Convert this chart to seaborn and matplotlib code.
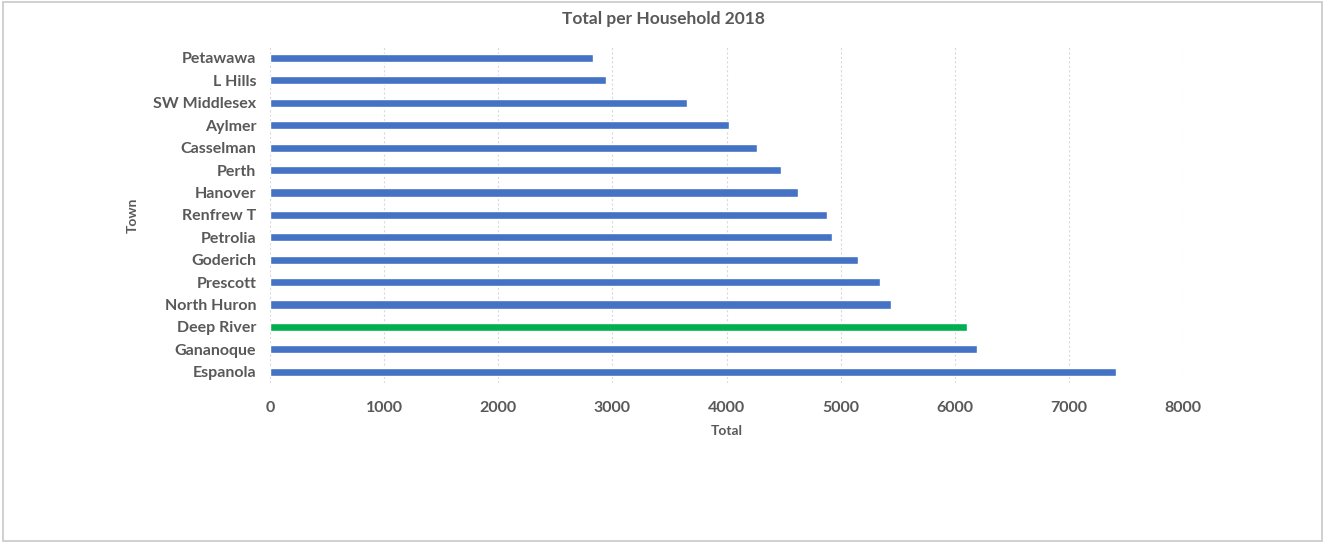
import matplotlib
matplotlib.use("Agg")
import matplotlib.pyplot as plt
import seaborn as sns
import pandas as pd
from matplotlib.patches import Rectangle

towns = ["Petawawa", "L Hills", "SW Middlesex", "Aylmer", "Casselman", "Perth",
         "Hanover", "Renfrew T", "Petrolia", "Goderich", "Prescott", "North Huron",
         "Deep River", "Gananoque", "Espanola"]
totals = [2834, 2945, 3655, 4026, 4271, 4481, 4622, 4882, 4925, 5156, 5343,
          5443, 6111, 6199, 7415]
x_ticks = [0, 1000, 2000, 3000, 4000, 5000, 6000, 7000, 8000]
highlight = "Deep River"

BLUE = "#4472C4"
GREEN = "#00B050"
TEXT = "#595959"

sns.set_theme(style="white")
plt.rcParams["font.family"] = ["Lato", "DejaVu Sans"]

df = pd.DataFrame({"Town": towns, "Total": totals})
palette = {t: (GREEN if t == highlight else BLUE) for t in towns}

fig = plt.figure(figsize=(13.27, 5.44), dpi=100)
ax = fig.add_axes([0.2035, 0.296, 0.688, 0.618])

sns.barplot(data=df, x="Total", y="Town", hue="Town", palette=palette,
            orient="h", width=0.36, legend=False, ax=ax, saturation=1)

ax.set_xlim(0, 8000)
ax.set_ylim(len(towns) - 0.5, -0.5)
ax.set_xticks(x_ticks)
ax.set_xticklabels([str(v) for v in x_ticks])
ax.grid(axis="x", color="#D9D9D9", linestyle=(0, (2, 2)), linewidth=0.8)
ax.set_axisbelow(True)
for s in ax.spines.values():
    s.set_visible(False)
ax.tick_params(axis="both", length=0, colors=TEXT, labelsize=11.5)
ax.tick_params(axis="y", pad=10)
ax.tick_params(axis="x", pad=13)
for lab in ax.get_yticklabels() + ax.get_xticklabels():
    lab.set_fontweight("bold")
    lab.set_color(TEXT)

ax.set_xlabel("Total", color=TEXT, fontsize=10, fontweight="bold", labelpad=7)
ax.set_ylabel("Town", color=TEXT, fontsize=10, fontweight="bold", labelpad=10)

fig.text(0.5, 0.965, "Total per Household 2018", ha="center", va="center",
         color=TEXT, fontsize=12.5, fontweight="bold")

# Light chart-area frame
fig.patches.append(Rectangle((0.002, 0.006), 0.994, 0.99, transform=fig.transFigure,
                             fill=False, edgecolor="#C8C8C8", linewidth=1.2))

fig.savefig("out.png", dpi=100, facecolor="white")
